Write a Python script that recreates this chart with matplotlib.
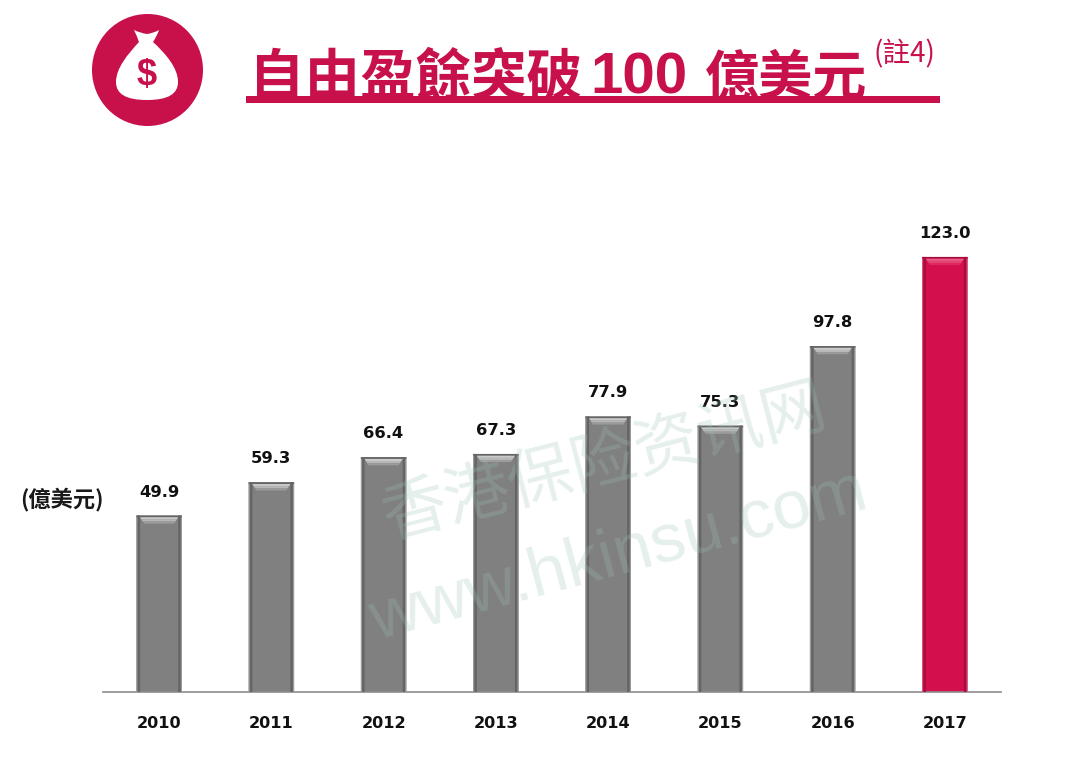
import matplotlib
matplotlib.use("Agg")
from matplotlib import pyplot as plt
from matplotlib.patches import Ellipse, PathPatch, Rectangle
from matplotlib.path import Path

plt.rcParams["font.family"] = ["Noto Sans CJK TC", "DejaVu Sans"]

years = ["2010", "2011", "2012", "2013", "2014", "2015", "2016", "2017"]
values = [49.9, 59.3, 66.4, 67.3, 77.9, 75.3, 97.8, 123.0]
highlight_year = "2017"

CRIMSON = "#C8104B"
LABEL_FONT = ["DejaVu Sans"]

fig = plt.figure(figsize=(10.8, 7.59), dpi=100, facecolor="white")

# chart area, baseline sits at y=692 px
ax = fig.add_axes([103 / 1080, (759 - 692) / 759, 898 / 1080, 495 / 759])
ax.set_xlim(-0.5, 7.5)
ax.set_ylim(0, 495 / 3.537)

bar_w = 0.405
edge_w = 0.022
bevel_h = 0.6
for i, (year, val) in enumerate(zip(years, values)):
    if year == highlight_year:
        base, rim, dark, bevel = "#D3104D", "#D9567F", "#A80C3E", ["#E8608A", "#E44575", "#DC2A60"]
    else:
        base, rim, dark, bevel = "#808080", "#9C9C9C", "#656565", ["#CACACA", "#B8B8B8", "#9C9C9C"]
    ax.bar(i, val, width=bar_w, color=base, linewidth=0, zorder=2, snap=False)
    # soft rim, darker sides and pale top, gives the bevel look
    for side in (-1, 1):
        ax.bar(i + side * (bar_w / 2 - edge_w / 4), val, width=edge_w / 2, color=rim,
               linewidth=0, zorder=3, snap=False)
        ax.bar(i + side * (bar_w / 2 - edge_w), val, width=edge_w, color=dark,
               linewidth=0, zorder=3, snap=False)
    ax.bar(i, 0.5, bottom=val - 0.5, width=bar_w, color=dark, linewidth=0, zorder=4, snap=False)
    for k, shade in enumerate(bevel):
        top = val - 0.5 - k * bevel_h
        inset = bar_w / 2 - 1.5 * edge_w - k * 0.012
        ax.fill([i - inset, i + inset, i + inset - 0.012, i - inset + 0.012],
                [top, top, top - bevel_h, top - bevel_h], color=shade, linewidth=0, zorder=5)
    ax.annotate(f"{val:.1f}", (i, val), xytext=(0, 16), textcoords="offset pixels",
                ha="center", va="bottom", fontsize=11.8, fontweight="bold",
                family=LABEL_FONT, color="#111111", zorder=6)

ax.set_xticks(range(len(years)))
ax.set_xticklabels(years, fontsize=11.6, fontweight="bold", family=LABEL_FONT, color="#111111")
ax.tick_params(axis="x", length=0, pad=17)
ax.set_yticks([])
for side in ["top", "left", "right"]:
    ax.spines[side].set_visible(False)
ax.spines["bottom"].set_color("#8C8C8C")
ax.spines["bottom"].set_linewidth(1.2)
ax.patch.set_alpha(0)

# overlay in pixel coordinates for the header and watermark
over = fig.add_axes([0, 0, 1, 1], zorder=5)
over.set_xlim(0, 1080)
over.set_ylim(759, 0)
over.axis("off")

over.add_patch(Ellipse((147.5, 70), 111, 112, color=CRIMSON, linewidth=0))
bag = Path(
    [(134, 30), (140, 33), (147, 34), (154, 33), (159, 30), (157, 36), (153, 42),
     (166, 54), (178, 68), (178, 82), (178, 94), (168, 100), (147, 100),
     (126, 100), (116, 94), (116, 82), (116, 68), (128, 54), (139, 42), (137, 36), (134, 30)],
    [Path.MOVETO, Path.CURVE3, Path.CURVE3, Path.CURVE3, Path.CURVE3, Path.CURVE3, Path.CURVE3,
     Path.CURVE4, Path.CURVE4, Path.CURVE4, Path.CURVE4, Path.CURVE4, Path.CURVE4,
     Path.CURVE4, Path.CURVE4, Path.CURVE4, Path.CURVE4, Path.CURVE4, Path.CURVE4,
     Path.CURVE3, Path.CURVE3],
)
over.add_patch(PathPatch(bag, facecolor="white", edgecolor="none"))
over.text(147, 75, "$", color=CRIMSON, fontsize=26, fontweight="bold",
          family=["Liberation Sans"], ha="center", va="center")

over.text(249, 95, "自由盈餘突破", color=CRIMSON, fontsize=40, fontweight="bold",
          ha="left", va="baseline")
over.text(590, 93, "100", color=CRIMSON, fontsize=42, fontweight="bold",
          family=["Liberation Sans"], ha="left", va="baseline")
over.text(705, 95, "億美元", color=CRIMSON, fontsize=39, fontweight="bold",
          ha="left", va="baseline")
over.text(873, 62, "(註4)", color=CRIMSON, fontsize=20, ha="left", va="baseline")
over.add_patch(Rectangle((246, 96), 694, 7, color=CRIMSON, linewidth=0))

over.text(20, 499, "(億美元)", color="#1A1A1A", fontsize=16, fontweight="bold",
          ha="left", va="center")

# site watermark runs across the bars
over.text(392, 553, "香港保险资讯网", color="#9CC2B4", alpha=0.26, fontsize=47,
          rotation=14.5, rotation_mode="anchor", ha="left", va="bottom", zorder=7)
over.text(376, 640, "www.hkinsu.com", color="#9CC2B4", alpha=0.26, fontsize=49.5,
          family=["Liberation Sans"], rotation=15, rotation_mode="anchor",
          ha="left", va="baseline", zorder=7)

fig.savefig("out.png", dpi=100)
